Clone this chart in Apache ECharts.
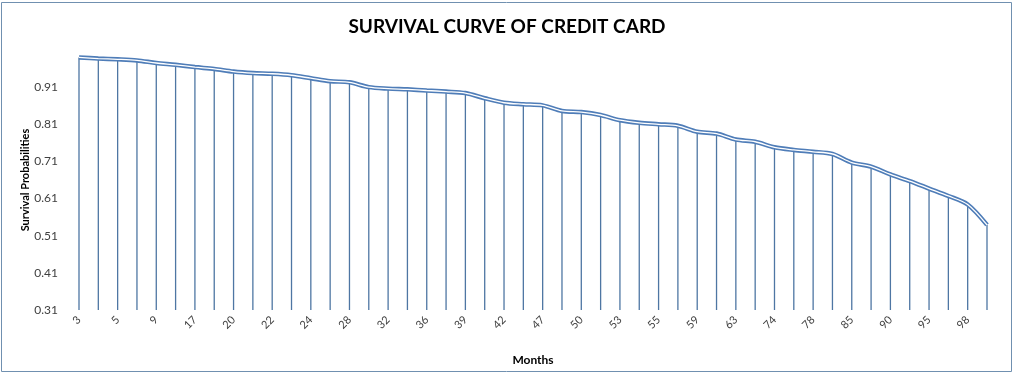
<!DOCTYPE html>
<html>
<head>
<meta charset="utf-8">
<script src="https://cdn.jsdelivr.net/npm/echarts@6/dist/echarts.min.js"></script>
<style>
html,body{margin:0;padding:0;background:#fff;}
#c{width:1014px;height:374px;}
</style>
</head>
<body>
<div id="c"></div>
<script>
const months = ['3','4','5','7','9','12','17','19','20','21','22','23','24','26','28','30','32','34','36','38','39','41','42','45','47','48','50','51','53','54','55','57','59','61','63','70','74','76','78','82','85','88','90','92','95','96','98','100'];
const survival = [0.990,0.987,0.985,0.982,0.975,0.970,0.964,0.959,0.952,0.948,0.946,0.942,0.934,0.926,0.923,0.910,0.906,0.904,0.901,0.898,0.894,0.880,0.868,0.864,0.861,0.846,0.843,0.835,0.821,0.814,0.810,0.806,0.790,0.785,0.769,0.763,0.748,0.741,0.736,0.730,0.707,0.696,0.675,0.657,0.637,0.617,0.594,0.539];
const yTicks = [0.31,0.41,0.51,0.61,0.71,0.81,0.91];

const chart = echarts.init(document.getElementById('c'));
const font = 'Lato, "Open Sans", sans-serif';
chart.setOption({
  animation:false,
  backgroundColor:'#fff',
  title:{
    text:'SURVIVAL CURVE OF CREDIT CARD',
    left:'center', top:12,
    textStyle:{fontFamily:font,fontWeight:'bold',fontSize:19,color:'#000'}
  },
  graphic:[{type:'rect',shape:{x:1.5,y:2.5,width:1010,height:369},style:{fill:'none',stroke:'#7090b0',lineWidth:1},silent:true,z:-1}],
  grid:{left:79,right:27,top:50,bottom:64},
  xAxis:{
    type:'category', data:months, boundaryGap:false,
    name:'Months', nameLocation:'middle', nameGap:44,
    nameTextStyle:{fontFamily:font,fontWeight:'bold',fontSize:12,color:'#000'},
    axisLine:{show:false}, axisTick:{show:false},
    axisLabel:{interval:1,rotate:45,fontFamily:font,fontSize:11,color:'#404040',margin:8}
  },
  yAxis:{
    type:'value', min:0.31, max:1.01,
    name:'Survival Probabilities', nameLocation:'middle', nameGap:48, nameMoveOverlap:false,
    nameTextStyle:{fontFamily:font,fontWeight:'bold',fontSize:11,color:'#000'},
    axisLine:{show:false}, axisTick:{show:false}, splitLine:{show:false},
    axisLabel:{customValues:yTicks,formatter:v=>v.toFixed(2),fontFamily:font,fontSize:12,color:'#404040',margin:21}
  },
  series:[
    {type:'bar',data:survival,barWidth:1.3,itemStyle:{color:'#4e76a3'},z:1},
    {type:'line',data:survival,smooth:0.3,symbol:'none',lineStyle:{color:'#4f7db8',width:4.5},z:2},
    {type:'line',data:survival,smooth:0.3,symbol:'none',lineStyle:{color:'#ffffff',width:1.3},z:3}
  ]
});
</script>
</body>
</html>
